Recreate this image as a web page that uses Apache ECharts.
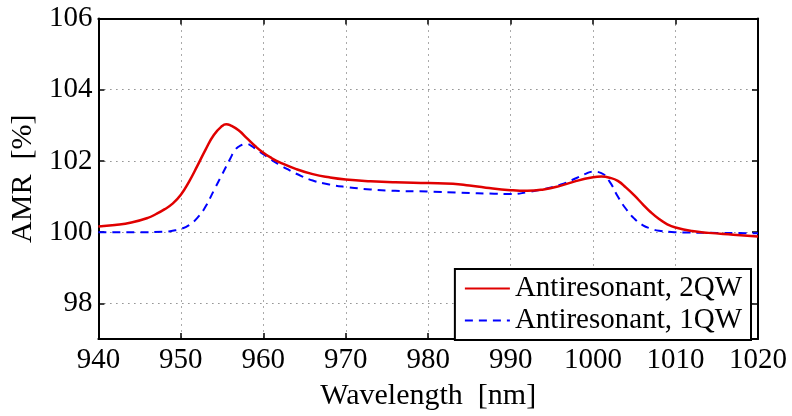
<!DOCTYPE html>
<html>
<head>
<meta charset="utf-8">
<script src="https://cdn.jsdelivr.net/npm/echarts@6/dist/echarts.min.js"></script>
<style>html,body{margin:0;padding:0;background:#fff}#c{width:792px;height:416px}</style>
</head>
<body>
<div id="c"></div>
<script>
// Antiresonant, 2QW
const wl2QW = [940,942,944,946,947,948,949,950,951,952,953,954,955,955.5,956,957,958,959,960,961,962,964,966,968,970,973,976,980,983,985,987,990,992,994,996,998,1000,1001,1002,1003,1004,1005,1006,1007,1008,1009,1010,1012,1014,1017,1020];
const amr2QW = [100.16,100.2,100.27,100.4,100.51,100.64,100.8,101.05,101.42,101.86,102.32,102.73,102.98,103.03,103.0,102.86,102.64,102.42,102.23,102.08,101.96,101.77,101.63,101.54,101.48,101.43,101.4,101.38,101.36,101.31,101.25,101.18,101.16,101.2,101.3,101.44,101.54,101.56,101.53,101.44,101.25,101.03,100.79,100.56,100.37,100.22,100.13,100.03,99.98,99.93,99.88];
// Antiresonant, 1QW
const wl1QW = [940,945,948,949,950,951,952,953,954,955,956,956.5,957,957.5,958,958.5,959,960,961,962,963,964,966,968,970,973,976,980,984,988,990,992,994,996,998,999,1000,1001,1002,1003,1004,1005,1006,1007,1008,1010,1015,1020];
const amr1QW = [100.0,100.0,100.01,100.04,100.09,100.2,100.4,100.72,101.17,101.62,102.07,102.28,102.4,102.46,102.48,102.43,102.35,102.19,102.03,101.89,101.76,101.64,101.45,101.34,101.27,101.2,101.16,101.14,101.11,101.08,101.07,101.12,101.21,101.33,101.52,101.63,101.7,101.66,101.42,101.0,100.65,100.38,100.2,100.1,100.04,100.0,99.98,99.97];

const xMin = 940, xMax = 1020, xStep = 10;
const yMin = 97, yMax = 106;
const yTicks = [98,100,102,104,106];
const seriesNames = ['Antiresonant, 2QW','Antiresonant, 1QW'];
const xName = 'Wavelength  [nm]';
const yName = 'AMR  [%]';

const FONT = 'Liberation Serif';
const zip = (a,b) => a.map((v,i) => [v, b[i]]);
const gridLine = {show:true, lineStyle:{color:'#555', width:1, type:[1,5]}};

const chart = echarts.init(document.getElementById('c'));
chart.setOption({
  animation:false,
  grid:{left:97, right:34, top:18.5, bottom:67, containLabel:false},
  legend:{
    orient:'vertical', right:41, top:269,
    data:seriesNames,
    itemWidth:45, itemHeight:14, itemGap:3,
    padding:[5,9,5,9],
    borderColor:'#000', borderWidth:2, backgroundColor:'#fff',
    itemStyle:{opacity:0},
    textStyle:{fontFamily:FONT, fontSize:29, color:'#000'}
  },
  xAxis:[{
    type:'value', min:xMin, max:xMax, interval:xStep, position:'bottom',
    name:xName, nameLocation:'middle', nameGap:42,
    nameTextStyle:{fontFamily:FONT, fontSize:30, color:'#000'},
    axisLine:{show:true, onZero:false, lineStyle:{color:'#000', width:2}},
    axisTick:{show:true, inside:true, length:6, lineStyle:{color:'#000', width:1.5}},
    axisLabel:{fontFamily:FONT, fontSize:29, color:'#000', margin:7, formatter:v => String(v)},
    splitLine:gridLine
  },{
    type:'value', min:xMin, max:xMax, interval:xStep, position:'top',
    axisLine:{show:true, onZero:false, lineStyle:{color:'#000', width:2}},
    axisTick:{show:true, inside:true, length:6, lineStyle:{color:'#000', width:1.5}},
    axisLabel:{show:false}, splitLine:{show:false}
  }],
  yAxis:[{
    type:'value', min:yMin, max:yMax, interval:1, position:'left',
    name:yName, nameLocation:'middle', nameGap:57,
    nameTextStyle:{fontFamily:FONT, fontSize:30, color:'#000'},
    axisLine:{show:true, onZero:false, lineStyle:{color:'#000', width:2}},
    axisTick:{show:true, inside:true, length:6, customValues:yTicks, lineStyle:{color:'#000', width:1.5}},
    axisLabel:{fontFamily:FONT, fontSize:29, color:'#000', margin:6, customValues:yTicks},
    splitLine:gridLine
  },{
    type:'value', min:yMin, max:yMax, interval:1, position:'right',
    axisLine:{show:true, onZero:false, lineStyle:{color:'#000', width:2}},
    axisTick:{show:true, inside:true, length:6, customValues:yTicks, lineStyle:{color:'#000', width:1.5}},
    axisLabel:{show:false, customValues:yTicks}, splitLine:{show:false}
  }],
  series:[{
    name:seriesNames[0], type:'line', smooth:true, symbol:'none',
    data:zip(wl2QW, amr2QW),
    lineStyle:{color:'#e00000', width:2.5}, itemStyle:{color:'#e00000'}, z:3
  },{
    name:seriesNames[1], type:'line', smooth:true, symbol:'none',
    data:zip(wl1QW, amr1QW),
    lineStyle:{color:'#0000ff', width:2, type:[8,6]}, itemStyle:{color:'#0000ff'}, z:2
  }]
});
</script>
</body>
</html>
